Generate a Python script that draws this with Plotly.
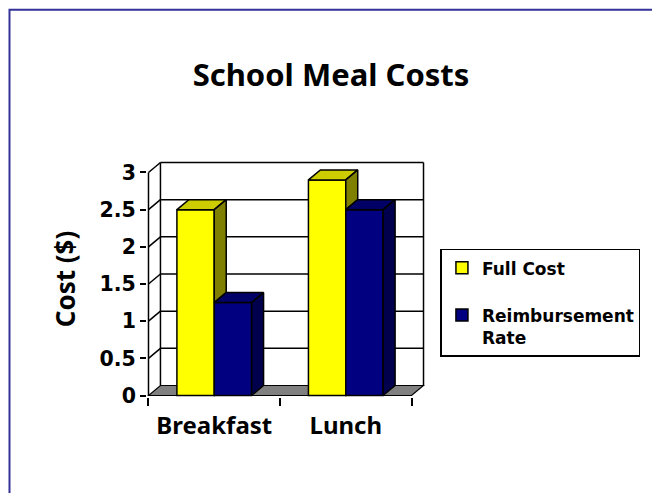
import plotly.graph_objects as go

# ---------------- data ----------------
categories = ["Breakfast", "Lunch"]
full_cost = [2.5, 2.9]
reimbursement_rate = [1.25, 2.5]
series_names = ["Full Cost", "Reimbursement<br>Rate"]
y_tick_vals = [0, 0.5, 1, 1.5, 2, 2.5, 3]
y_tick_text = ["0", "0.5", "1", "1.5", "2", "2.5", "3"]

series_values = [full_cost, reimbursement_rate]
front_colors = ["#FFFF00", "#000080"]
top_colors = ["#CCCC00", "#000066"]
side_colors = ["#808000", "#00004D"]

# ---------------- geometry ----------------
OFF = 8                 # page body margin
W, H = 660 - OFF, 493 - OFF
PX_LEFT = 148 - OFF     # front value axis (figure px)
PX_BOTTOM = 396 - OFF   # front floor edge (figure px)
KX = 132.0              # px per category
KY = 74.5               # px per value unit
DEPTH_X, DEPTH_Y = 12.0, 10.0
EPS = 1.5
BARGAP = 0.432

ddx, ddy = DEPTH_X / KX, DEPTH_Y / KY
ex, ey = EPS / KX, EPS / KY
ytop = max(y_tick_vals)
xmin, xmax = -0.5 - ex, len(categories) - 0.5 + ddx + ex
ymin, ymax = -ey, ytop + ddy + ey

plot_w = (xmax - xmin) * KX
plot_h = (ymax - ymin) * KY
m_l = PX_LEFT - EPS
m_b = H - (PX_BOTTOM + EPS)
m_t = H - m_b - plot_h
m_r = W - m_l - plot_w


def px2paper_x(px):
    return (px - OFF - m_l) / plot_w


def px2paper_y(py):
    return (H - m_b - (py - OFF)) / plot_h


fig = go.Figure()

n = len(series_values)
bw = (1 - BARGAP) / n

# front faces (bars)
for i in range(n):
    fig.add_trace(go.Bar(
        x=list(range(len(categories))), y=series_values[i], name=series_names[i],
        marker=dict(color=front_colors[i], line=dict(color="black", width=1.5)),
        legendgroup="g%d" % i, hoverinfo="skip",
    ))

# 3D top and side faces
for j in range(len(categories)):
    for i in range(n):
        v = series_values[i][j]
        x0 = j - (1 - BARGAP) / 2 + i * bw
        x1 = x0 + bw
        fig.add_trace(go.Scatter(
            x=[x0, x1, x1 + ddx, x0 + ddx, x0], y=[v, v, v + ddy, v + ddy, v],
            mode="lines", fill="toself", fillcolor=top_colors[i],
            line=dict(color="black", width=1.5), showlegend=False, hoverinfo="skip"))
        lo = series_values[i + 1][j] if i + 1 < n else 0
        if lo < v:
            fig.add_trace(go.Scatter(
                x=[x1, x1, x1 + ddx, x1 + ddx, x1], y=[lo, v, v + ddy, lo + ddy, lo],
                mode="lines", fill="toself", fillcolor=side_colors[i],
                line=dict(color="black", width=1.5), showlegend=False, hoverinfo="skip"))

# walls, floor, axis
shapes = []
xl, xr = -0.5, len(categories) - 0.5
line_k = dict(color="black", width=1.5)
shapes.append(dict(type="path", xref="x", yref="y", layer="below",
                   path="M %f,%f L %f,%f L %f,%f L %f,%f Z" % (
                       xl, 0, xr, 0, xr + ddx, ddy, xl + ddx, ddy),
                   fillcolor="#808080", line=dict(color="black", width=1.2)))
for t in y_tick_vals[1:]:
    shapes.append(dict(type="line", xref="x", yref="y", layer="below",
                       x0=xl + ddx, x1=xr + ddx, y0=t + ddy, y1=t + ddy, line=line_k))
    shapes.append(dict(type="line", xref="x", yref="y", layer="below",
                       x0=xl, x1=xl + ddx, y0=t, y1=t + ddy, line=line_k))
shapes.append(dict(type="line", xref="x", yref="y", layer="below",
                   x0=xl + ddx, x1=xl + ddx, y0=ddy, y1=ytop + ddy, line=line_k))
shapes.append(dict(type="line", xref="x", yref="y", layer="below",
                   x0=xr + ddx, x1=xr + ddx, y0=ddy, y1=ytop + ddy, line=line_k))
shapes.append(dict(type="line", xref="x", yref="y", layer="above",
                   x0=xl, x1=xl, y0=0, y1=ytop, line=line_k))
# outer frame (page px)
shapes.append(dict(type="rect", xref="paper", yref="paper",
                   x0=px2paper_x(8.5), x1=px2paper_x(658),
                   y0=px2paper_y(493 + 20), y1=px2paper_y(9.5),
                   line=dict(color="#333399", width=2), fillcolor="rgba(0,0,0,0)"))

title_font = dict(family="Noto Sans, sans-serif", size=31, color="black", weight="bold")
label_font = dict(family="Noto Sans, sans-serif", size=24, color="black", weight="bold")
ytitle_font = dict(family="Noto Sans, sans-serif", size=26, color="black", weight="bold")
num_font = dict(family="DejaVu Sans, sans-serif", size=20.5, color="black", weight="bold")

fig.update_layout(
    width=W, height=H,
    margin=dict(l=m_l, r=m_r, t=m_t, b=m_b, autoexpand=False),
    paper_bgcolor="white", plot_bgcolor="white",
    barmode="group", bargap=BARGAP, bargroupgap=0,
    title=dict(text="School Meal Costs", font=title_font, x=(331 - OFF) / W, xref="container",
               xanchor="center", y=1 - (75 - OFF) / H, yref="container", yanchor="middle"),
    shapes=shapes,
    hovermode=False,
    showlegend=True,
    legend=dict(x=px2paper_x(441), y=px2paper_y(249), xanchor="left", yanchor="top",
                bordercolor="black", borderwidth=1.5, bgcolor="white",
                font=dict(family="DejaVu Sans, sans-serif", size=17, color="black", weight="bold"),
                tracegroupgap=22, valign="top", traceorder="grouped"),
    xaxis=dict(range=[xmin, xmax], tickmode="array",
               tickvals=list(range(len(categories))), ticktext=categories,
               ticks="", showline=False, showgrid=False, zeroline=False,
               tickfont=label_font, ticklabelstandoff=12,
               minor=dict(tickmode="array", tickvals=[k - 0.5 for k in range(len(categories) + 1)],
                          ticks="outside", ticklen=8, tickwidth=1.5, tickcolor="black",
                          showgrid=False)),
    yaxis=dict(range=[ymin, ymax], tickmode="array", tickvals=y_tick_vals, ticktext=y_tick_text,
               ticks="outside", ticklen=6, tickwidth=1.5, tickcolor="black",
               showline=False, showgrid=False, zeroline=False, tickfont=num_font,
               title=dict(text="Cost ($)", font=ytitle_font, standoff=16)),
)

fig.write_html("out.html")
